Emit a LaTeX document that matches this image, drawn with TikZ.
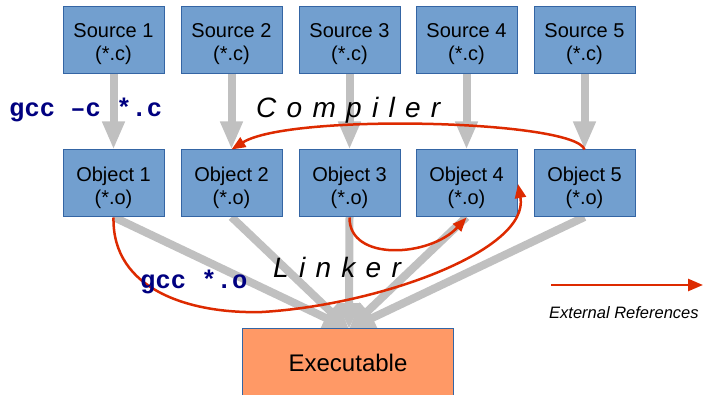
\documentclass[tikz,border=0pt]{standalone}
\usepackage{fontspec}
\setmainfont{Liberation Sans}
\newfontfamily\codefont{Liberation Mono}
\usetikzlibrary{arrows.meta}
\definecolor{boxblue}{HTML}{729FCF}
\definecolor{boxedge}{HTML}{3465A4}
\definecolor{exeorange}{HTML}{FF9966}
\definecolor{flowgray}{HTML}{C0C0C0}
\definecolor{refred}{HTML}{DD2A00}
\definecolor{codeblue}{HTML}{000080}
\tikzset{
  filebox/.style={draw=boxedge, line width=1pt, fill=boxblue, minimum width=101pt, minimum height=67pt,
    inner sep=0pt},
  boxtext/.style={inner sep=0pt, align=center, font=\fontsize{20}{23}\selectfont},
  flow/.style={draw=flowgray, line width=8pt, -{Triangle[length=28pt,width=21pt]}},
  linkflow/.style={draw=flowgray, line width=8pt, -{Triangle[length=26pt,width=22pt]}},
  extref/.style={draw=refred, line width=2.5pt, -{Triangle[length=14pt,width=11pt]}},
  spacedlabel/.style={inner sep=0pt, anchor=base west, font=\fontsize{28}{30}\selectfont\itshape},
  codelabel/.style={inner sep=0pt, anchor=base west, text=codeblue, font=\fontsize{25.5}{27}\selectfont\codefont\bfseries},
}
\begin{document}
\begin{tikzpicture}[x=1pt, y=-1pt]
\useasboundingbox (0,0) rectangle (703,395);
% links (drawn first, below the boxes)
\coordinate (sink) at (349,329);
\foreach \i/\x in {1/113.5,2/231.5,3/349.5,4/466.5,5/584.5}{
  \coordinate (ob\i) at (\x,217);
}
\draw[linkflow] (ob1) -- (sink);
\draw[linkflow] (ob2) -- (sink);
\draw[linkflow] (ob3) -- (sink);
\draw[linkflow] (ob4) -- (sink);
\draw[linkflow] (ob5) -- (sink);
% boxes
\foreach \i/\x in {1/113.5,2/231.5,3/349.5,4/466.5,5/584.5}{
  \node[filebox] (s\i) at (\x,40.5) {};
  \node[boxtext] (s\i t) at (\x,44.5) {Source \i\\(*.c)};
  \node[filebox] (o\i) at (\x,183.5) {};
  \node[boxtext] (o\i t) at (\x,187.5) {Object \i\\(*.o)};
  \draw[flow] (s\i.south) -- (o\i.north);
}
% executable
\node[fill=exeorange, minimum width=210pt, minimum height=67pt, inner sep=0pt,
  font=\fontsize{24}{26}\selectfont] (exe) at (348,362.5) {Executable};
\draw[boxedge, line width=1pt] (exe.south west) -- (exe.north west) -- (exe.north east) -- (exe.south east);
% external references
\draw[extref] (o5.north) .. controls (575,120) and (290,113) .. (o2.north);
\draw[extref] (o3.south) .. controls (349,262) and (430,257) .. (o4.south);
\coordinate (o4right) at (518,184);
\draw[extref] (o1.south) .. controls (112,290) and (190,314) .. (262,312)
   .. controls (380,305) and (530,250) .. (o4right);
% legend
\coordinate (legA) at (551,285);
\coordinate (legB) at (703,285);
\draw[draw=refred, line width=2.5pt, -{Triangle[length=15pt,width=12pt]}] (legA) -- (legB);
\node[inner sep=0pt, anchor=base west, font=\fontsize{16.5}{18}\selectfont\itshape] (legtext) at (549,318) {External References};
% labels
\node[spacedlabel] (compiler) at (256,118) {C\kern10.3pt o\kern10.3pt m\kern10.3pt p\kern10.3pt i\kern10.3pt l\kern10.3pt e\kern10.3pt r};
\node[spacedlabel] (linker) at (273,277) {L\kern10.3pt i\kern10.3pt n\kern10.3pt k\kern10.3pt e\kern10.3pt r};
\node[codelabel] (gccc) at (9,117) {gcc –c *.c};
\node[codelabel] (gcco) at (140,288) {gcc *.o};
\end{tikzpicture}
\end{document}
